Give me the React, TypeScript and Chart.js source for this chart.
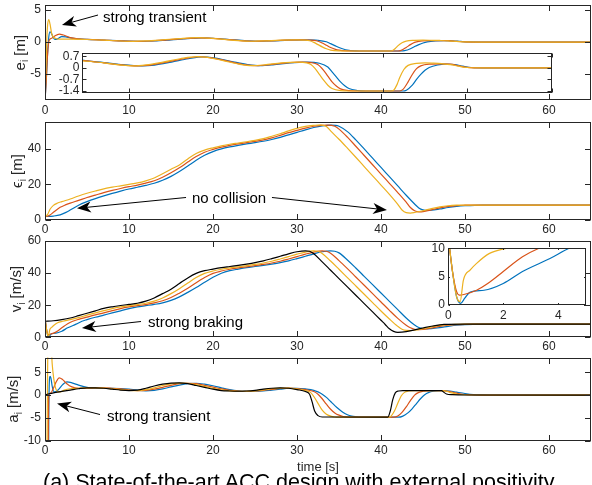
import { useEffect, useRef } from 'react';
import { Chart, registerables } from 'chart.js';

Chart.register(...registerables);

type Pt = [number, number];

const W = 592;
const H = 485;
const FONT = '"Liberation Sans", Arial, Helvetica, sans-serif';
const AXIS = '#262626';
const BLUE = '#0072BD';
const RED = '#D95319';
const YEL = '#EDB120';
const BLK = '#000000';

// ---------- tick values ----------
const TIME_TICKS = [0, 10, 20, 30, 40, 50, 60];
const E_TICKS = [-5, 0, 5];
const E_INSET_TICKS = [-1.4, -0.7, 0, 0.7];
const EPS_TICKS = [0, 20, 40];
const V_TICKS = [0, 20, 40, 60];
const V_INSET_X_TICKS = [0, 2, 4];
const V_INSET_Y_TICKS = [0, 5, 10];
const A_TICKS = [-10, -5, 0, 5];

// ---------- spacing error e_i [m] ----------
const eBlue: Pt[] = [[0,-9.1],[0.15,-6],[0.3,-2],[0.45,0.8],[0.6,1.6],[0.75,1.4],[0.95,0.8],[1.2,0.4],[1.5,0.5],[2,0.85],[2.5,0.8],[3,0.65],[4,0.5],[5,0.42],[7,0.32],[9,0.2],[11.5,0.12],[13,0.17],[15,0.35],[17,0.55],[18.7,0.66],[20,0.6],[22,0.4],[24,0.2],[25.5,0.13],[27,0.18],[29,0.3],[31,0.35],[32.5,0.28],[33.5,0.05],[34,-0.25],[34.5,-0.55],[35,-0.85],[35.5,-1.08],[36,-1.25],[37,-1.37],[38,-1.4],[42.4,-1.4],[42.8,-1.35],[43.5,-1.05],[44,-0.7],[44.5,-0.4],[45,-0.15],[45.5,0.02],[46.5,0.17],[47.5,0.22],[48.5,0.2],[49.5,0.1],[50.5,0.02],[52,0],[65,0]];
const eRed: Pt[] = [[0,-9.1],[0.15,-6],[0.3,-2],[0.5,0.3],[0.8,0.6],[1.2,1.0],[1.7,1.25],[2.2,1.1],[3,0.7],[4,0.5],[5,0.42],[7,0.3],[9,0.18],[11,0.12],[12.5,0.17],[14.5,0.35],[16.5,0.55],[18.3,0.67],[19.5,0.62],[21.5,0.42],[23.5,0.2],[25,0.13],[26.5,0.18],[28.5,0.3],[30.5,0.35],[31.5,0.32],[32.3,0.2],[33,-0.15],[33.5,-0.5],[34,-0.85],[34.5,-1.1],[35,-1.27],[36,-1.38],[37,-1.4],[42,-1.4],[42.4,-1.3],[43,-0.85],[43.5,-0.4],[44,-0.05],[44.5,0.12],[45.5,0.22],[47,0.24],[48,0.22],[49,0.12],[50,0.03],[52,0],[65,0]];
const eYellow: Pt[] = [[0,-9.1],[0.1,-5],[0.2,0],[0.3,2.5],[0.45,3.5],[0.6,2.8],[0.8,1.3],[1,0.8],[1.3,0.55],[1.6,0.45],[2,0.45],[3,0.45],[5,0.4],[7,0.3],[9,0.17],[10.5,0.12],[12,0.18],[14,0.35],[16,0.55],[18,0.68],[19,0.65],[21,0.45],[23,0.22],[24.5,0.13],[26,0.18],[28,0.3],[30,0.35],[31,0.3],[31.5,0.2],[32,-0.05],[32.5,-0.4],[33,-0.75],[33.5,-1.05],[34,-1.25],[35,-1.38],[36,-1.4],[41,-1.4],[41.3,-1.35],[41.7,-1.0],[42,-0.6],[42.5,-0.1],[43,0.15],[44,0.27],[45,0.3],[46,0.28],[47,0.25],[48,0.2],[49,0.1],[50,0.02],[52,0],[65,0]];

// ---------- inter-vehicle spacing eps_i [m] ----------
const epsBlue: Pt[] = [[0,2],[0.5,2],[1,2.2],[1.8,2.9],[2.5,4.3],[3,5.6],[4,8.3],[5,10.3],[6,12],[7,13.5],[8,14.9],[9,16.2],[10,17.4],[11,18.4],[12,19.4],[13,20.6],[14,22.3],[15,24.5],[16,27.2],[17,30.3],[18,33.5],[19,36.3],[20,38.4],[21,39.9],[22,41],[23,41.9],[24,42.7],[25,43.4],[26,44.2],[27,45.2],[28,46.4],[29,47.8],[30,49.2],[31,50.6],[32,51.9],[33,52.8],[34,53.2],[34.6,53.1],[35,52.6],[36,49.6],[37,45],[38,39.9],[39,34.7],[40,29.5],[41,24.3],[42,19.1],[43,13.9],[44,9],[44.5,6.8],[45,5.7],[45.5,5.4],[46,5.5],[47,6.2],[48,7],[49,7.6],[50,8],[52,8.4],[65,8.4]];
const epsRed: Pt[] = [[0,2],[0.3,2.1],[0.6,2.8],[1,4.3],[1.8,7.1],[2.5,8.6],[3,9.5],[4,11],[5,12.6],[6,14],[7,15.4],[8,16.6],[9,17.7],[10,18.7],[11,19.6],[12,20.7],[13,22],[14,24],[15,26.5],[16,29.3],[17,32.5],[18,35.6],[19,38],[20,39.6],[21,40.9],[22,41.9],[23,42.7],[24,43.4],[25,44.1],[26,45],[27,46.1],[28,47.5],[29,49],[30,50.3],[31,51.6],[32,52.6],[33,53.1],[33.7,53.3],[34.5,52.6],[35,51],[36,46.5],[37,41.4],[38,36.2],[39,31],[40,25.8],[41,20.6],[42,15.4],[43,10],[43.5,7],[44,5.2],[44.5,4.6],[45,4.7],[46,5.7],[47,6.8],[48,7.6],[49,8.1],[50,8.3],[51,8.4],[65,8.4]];
const epsYellow: Pt[] = [[0,2],[0.3,3],[0.6,6],[1,8.2],[1.5,9.5],[2,10.3],[3,11.8],[4,13.5],[5,15],[6,16.3],[7,17.5],[8,18.4],[9,19.2],[10,20],[11,20.8],[12,22],[13,23.6],[14,26],[15,28.5],[16,30.9],[17,34.3],[18,37.3],[19,39.2],[20,40.5],[21,41.6],[22,42.5],[23,43.2],[24,43.9],[25,44.7],[26,45.7],[27,47],[28,48.4],[29,50],[30,51.4],[31,52.5],[32,53.1],[32.8,53.4],[33.5,52.5],[34,50],[35,45.3],[36,40.3],[37,35.2],[38,30],[39,24.8],[40,19.6],[41,14.4],[42,8.8],[42.5,5.6],[43,4.1],[43.5,3.9],[44,4.2],[45,5.2],[46,6.4],[47,7.4],[48,8],[49,8.3],[50,8.4],[65,8.4]];

// ---------- velocity v_i [m/s] ----------
const vBlack: Pt[] = [[0,10],[1,10.3],[2,11],[3,12],[4,13.5],[5,15],[6,16.5],[7,18],[8,19],[9,19.8],[10,20.5],[11,21.2],[12,22.5],[13,24.5],[14,27.2],[15,30],[16,33.5],[17,37],[18,39.8],[19,41.5],[20,42.5],[21,43.4],[22,44.1],[23,44.8],[24,45.6],[25,46.5],[26,47.6],[27,49],[28,50.5],[29,52],[30,53.3],[31,53.9],[31.5,53.6],[32,52],[33,47],[34,41.8],[35,36.6],[36,31.4],[37,26.2],[38,21],[39,15.8],[40,10.6],[40.5,8],[41,5.3],[41.5,3.7],[42,3.1],[43,3.5],[44,4.6],[45,5.8],[46,6.9],[47,7.7],[47.5,8],[48,8.1],[50,8.2],[65,8.2]];
const vYellow: Pt[] = [[0,12],[0.15,6],[0.3,1.5],[0.43,0.6],[0.55,4.4],[0.8,6.2],[1.03,7.35],[1.5,9.1],[2.1,10],[3,11],[4,12.3],[5,13.8],[6,15.2],[7,16.6],[8,17.9],[9,18.9],[10,19.7],[11,20.4],[12,21.2],[13,22.5],[14,24.5],[15,27.2],[16,30.3],[17,33.8],[18,37.2],[19,39.8],[20,41.3],[21,42.4],[22,43.2],[23,43.9],[24,44.6],[25,45.4],[26,46.3],[27,47.4],[28,48.8],[29,50.3],[30,51.8],[31,53.1],[32,53.8],[32.5,53.6],[33,52.2],[34,47.5],[35,42.4],[36,37.2],[37,32],[38,26.8],[39,21.6],[40,16.4],[41,11.4],[42,6.8],[42.5,5],[43,4.3],[43.5,4.2],[44,4.4],[45,5.4],[46,6.5],[47,7.4],[48,7.9],[49,8.1],[50,8.2],[65,8.2]];
const vRed: Pt[] = [[0,12],[0.15,6],[0.3,2.4],[0.4,1.75],[0.6,1.9],[1.03,2.6],[1.5,4],[2,5.9],[2.7,8.5],[3.3,10],[4,11.2],[5,12.6],[6,14],[7,15.2],[8,16.6],[9,17.9],[10,18.9],[11,19.7],[12,20.4],[13,21.4],[14,22.8],[15,24.8],[16,27.5],[17,30.5],[18,34],[19,37.2],[20,39.8],[21,41.3],[22,42.4],[23,43.2],[24,43.9],[25,44.6],[26,45.4],[27,46.3],[28,47.4],[29,48.8],[30,50.3],[31,51.8],[32,53.1],[33,53.8],[33.5,53.6],[34,52.4],[35,47.8],[36,42.8],[37,37.6],[38,32.4],[39,27.2],[40,22],[41,16.8],[42,11.8],[43,7.5],[43.5,5.9],[44,5],[44.5,4.8],[45,4.9],[46,5.8],[47,6.8],[48,7.5],[49,7.9],[50,8.1],[51,8.2],[65,8.2]];
const vBlue: Pt[] = [[0,12],[0.15,6],[0.3,1.5],[0.45,0.3],[0.6,1.2],[0.8,2.3],[1.3,2.6],[2,3.8],[2.7,5.9],[3.7,8.2],[4.4,10],[5,11],[6,12.5],[7,13.8],[8,15.2],[9,16.5],[10,17.9],[11,18.9],[12,19.7],[13,20.5],[14,21.5],[15,23],[16,25.2],[17,28],[18,31],[19,34.3],[20,37.4],[21,39.9],[22,41.5],[23,42.5],[24,43.4],[25,44.1],[26,44.8],[27,45.6],[28,46.5],[29,47.6],[30,49],[31,50.5],[32,52],[33,53.3],[34,53.9],[34.5,53.6],[35,52.6],[36,48.2],[37,43.2],[38,38],[39,32.8],[40,27.6],[41,22.4],[42,17.2],[43,12],[44,7.6],[44.5,6.1],[45,5.5],[45.5,5.3],[46,5.4],[47,6],[48,6.8],[49,7.5],[50,7.9],[52,8.2],[65,8.2]];

// ---------- acceleration a_i [m/s^2] ----------
const aBlack: Pt[] = [[0,0.05],[0.5,0.3],[1,0.5],[2,0.8],[3,1.1],[4,1.4],[5,1.6],[6,1.6],[7,1.5],[8,1.3],[9,1.1],[10,1.0],[11,1.1],[12,1.5],[13,2.0],[14,2.4],[15,2.65],[16,2.7],[17,2.5],[18,2.1],[19,1.7],[20,1.3],[21,1.0],[22,0.9],[23,0.85],[24,0.9],[25,1.05],[26,1.3],[27,1.5],[28,1.6],[29,1.5],[30,1.2],[31,0.8],[31.5,0.2],[31.8,-1.5],[32.1,-3.5],[32.5,-4.5],[33,-4.8],[40.8,-4.85],[41.1,-3.5],[41.4,-1],[41.7,0.5],[42.1,0.9],[42.6,1],[47.2,1],[47.5,0.6],[47.8,0.25],[48.5,0.1],[50,0.02],[65,0]];
const aYellow: Pt[] = [[0,-25],[0.2,-25],[0.25,-10],[0.3,3],[0.36,12],[0.7,12],[0.85,7],[1.05,3.5],[1.25,1.6],[1.5,0.8],[1.8,0.7],[2.3,1.1],[3,1.4],[4,1.5],[5,1.6],[6,1.6],[7,1.55],[8,1.4],[9,1.2],[10,1.05],[11,1.0],[12,1.2],[13,1.6],[14,2.1],[15,2.45],[16,2.65],[17,2.6],[18,2.3],[19,1.9],[20,1.5],[21,1.15],[22,0.95],[23,0.85],[24,0.85],[25,0.95],[26,1.15],[27,1.4],[28,1.55],[29,1.55],[30,1.35],[31,1.0],[31.6,0.6],[32,-0.3],[32.5,-1.8],[33,-3.3],[33.5,-4.2],[34,-4.6],[34.5,-4.8],[35,-4.85],[40.9,-4.85],[41.2,-4.6],[41.6,-3.5],[42,-1.8],[42.4,-0.2],[42.8,0.6],[43.3,0.9],[44,1.0],[47.3,1.0],[47.8,0.85],[48.3,0.55],[49,0.25],[50,0.08],[51,0.02],[65,0]];
const aRed: Pt[] = [[0,-25],[0.35,-25],[0.4,-8],[0.45,0],[0.7,0.5],[1.0,1.5],[1.3,2.8],[1.7,3.8],[2.1,3.4],[2.6,2.5],[3.2,1.8],[4,1.5],[5,1.5],[6,1.6],[7,1.6],[8,1.5],[9,1.35],[10,1.15],[11,1.0],[12,1.05],[13,1.3],[14,1.7],[15,2.15],[16,2.5],[17,2.6],[18,2.5],[19,2.15],[20,1.75],[21,1.35],[22,1.05],[23,0.9],[24,0.85],[25,0.9],[26,1.05],[27,1.25],[28,1.45],[29,1.55],[30,1.45],[31,1.2],[32,0.8],[32.5,0.2],[33,-0.8],[33.5,-2.0],[34,-3.1],[34.5,-3.9],[35,-4.4],[35.5,-4.7],[36,-4.8],[36.5,-4.85],[41.5,-4.85],[42,-4.6],[42.5,-3.8],[43,-2.6],[43.5,-1.2],[44,0],[44.5,0.6],[45,0.85],[45.5,0.95],[46,1.0],[47.3,1.0],[48,0.85],[48.7,0.55],[49.5,0.25],[50.5,0.08],[52,0.01],[65,0]];
const aBlue: Pt[] = [[0,-25],[0.4,-25],[0.45,-5],[0.5,2],[0.6,4.1],[0.7,3.8],[0.85,2],[1.0,0.9],[1.2,0.7],[1.6,1.2],[2.1,2.3],[2.6,2.9],[3.2,2.7],[4,2.2],[5,1.7],[6,1.5],[7,1.5],[8,1.5],[9,1.45],[10,1.3],[11,1.1],[12,0.95],[13,1.05],[14,1.35],[15,1.8],[16,2.2],[17,2.5],[18,2.6],[19,2.4],[20,2.05],[21,1.6],[22,1.2],[23,0.95],[24,0.85],[25,0.8],[26,0.9],[27,1.1],[28,1.3],[29,1.5],[30,1.5],[31,1.35],[32,1.05],[32.5,0.7],[33,0.2],[33.5,-0.5],[34,-1.4],[34.5,-2.3],[35,-3.1],[35.5,-3.8],[36,-4.3],[36.5,-4.6],[37,-4.75],[37.5,-4.85],[42.1,-4.85],[42.6,-4.6],[43.2,-3.9],[43.7,-3.0],[44.2,-1.9],[44.7,-0.8],[45.2,0.1],[45.7,0.6],[46.2,0.85],[46.8,0.97],[47.5,1.0],[48.2,0.9],[49,0.65],[50,0.35],[51,0.12],[52,0.03],[53,0],[65,0]];

// ---------- annotations (data coordinates) ----------
interface Arrow { from: Pt; to: Pt }
interface Note { text: string; at: Pt; arrows: Arrow[] }

const NOTES_E: Note[] = [{ text: 'strong transient', at: [6.9, 3.18], arrows: [{ from: [6.31, 4.23], to: [2.02, 2.67] }] }];
const NOTES_EPS: Note[] = [{ text: 'no collision', at: [17.5, 9.37], arrows: [{ from: [16.79, 12.63], to: [3.81, 6.57] }, { from: [27.02, 12.63], to: [40.71, 5.61] }] }];
const NOTES_V: Note[] = [{ text: 'strong braking', at: [12.26, 6.6], arrows: [{ from: [11.43, 9.84], to: [4.4, 5.79] }] }];
const NOTES_A: Note[] = [{ text: 'strong transient', at: [7.38, -5.62], arrows: [{ from: [6.55, -4.26], to: [1.43, -1.84] }] }];

interface Series { data: Pt[]; color: string }
interface Panel {
  area: { left: number; top: number; right: number; bottom: number };
  xr: [number, number];
  yr: [number, number];
  xTicks: number[];
  yTicks: number[];
  xLabels: boolean;
  tickLen: number;
  yLabelPad: number;
  xLabelOff: number;
  series: Series[];
  fill?: boolean;
  yTitle?: { sym: string; unit: string; x: number };
  xTitle?: { text: string; y: number };
  notes?: Note[];
}

const PANELS: Panel[] = [
  {
    area: { left: 45, top: 5.3, right: 591, bottom: 100 }, xr: [0, 65], yr: [-9.06, 5.75],
    xTicks: TIME_TICKS, yTicks: E_TICKS, xLabels: true, tickLen: 5.5, yLabelPad: 4, xLabelOff: 10.5,
    series: [{ data: eYellow, color: YEL }, { data: eRed, color: RED }, { data: eBlue, color: BLUE }],
    yTitle: { sym: 'e', unit: ' [m]', x: 19.5 }, notes: NOTES_E,
  },
  {
    area: { left: 45, top: 122, right: 591, bottom: 220 }, xr: [0, 65], yr: [0, 55],
    xTicks: TIME_TICKS, yTicks: EPS_TICKS, xLabels: true, tickLen: 5.5, yLabelPad: 4, xLabelOff: 9.5,
    series: [{ data: epsYellow, color: YEL }, { data: epsRed, color: RED }, { data: epsBlue, color: BLUE }],
    yTitle: { sym: '\u03F5', unit: ' [m]', x: 17 }, notes: NOTES_EPS,
  },
  {
    area: { left: 45, top: 241, right: 591, bottom: 337.3 }, xr: [0, 65], yr: [0, 60],
    xTicks: TIME_TICKS, yTicks: V_TICKS, xLabels: true, tickLen: 5.5, yLabelPad: 4, xLabelOff: 9.5,
    series: [{ data: vBlack, color: BLK }, { data: vYellow, color: YEL }, { data: vRed, color: RED }, { data: vBlue, color: BLUE }],
    yTitle: { sym: 'v', unit: ' [m/s]', x: 16 }, notes: NOTES_V,
  },
  {
    area: { left: 45, top: 357.5, right: 591, bottom: 440.7 }, xr: [0, 65], yr: [-10, 8.25],
    xTicks: TIME_TICKS, yTicks: A_TICKS, xLabels: true, tickLen: 5.5, yLabelPad: 4, xLabelOff: 10,
    series: [{ data: aBlack, color: BLK }, { data: aYellow, color: YEL }, { data: aRed, color: RED }, { data: aBlue, color: BLUE }],
    yTitle: { sym: 'a', unit: ' [m/s]', x: 13 }, notes: NOTES_A, xTitle: { text: 'time [s]', y: 467.5 },
  },
  {
    area: { left: 82, top: 53.3, right: 551.7, bottom: 93.3 }, xr: [4.4, 60], yr: [-1.54, 0.88],
    xTicks: TIME_TICKS, yTicks: E_INSET_TICKS, xLabels: false, tickLen: 4, yLabelPad: 2.5, xLabelOff: 10,
    series: [{ data: eYellow, color: YEL }, { data: eRed, color: RED }, { data: eBlue, color: BLUE }],
    fill: true,
  },
  {
    area: { left: 448.3, top: 248.3, right: 585.7, bottom: 305 }, xr: [0, 5], yr: [0, 10],
    xTicks: V_INSET_X_TICKS, yTicks: V_INSET_Y_TICKS, xLabels: true, tickLen: 1.5, yLabelPad: 3.5, xLabelOff: 11,
    series: [{ data: vYellow, color: YEL }, { data: vRed, color: RED }, { data: vBlue, color: BLUE }],
    fill: true,
  },
];

function drawArrow(ctx: CanvasRenderingContext2D, x1: number, y1: number, x2: number, y2: number) {
  const ang = Math.atan2(y2 - y1, x2 - x1);
  const c = Math.cos(ang), s = Math.sin(ang);
  const L = 14, HW = 5.5, N = 4;
  const bx = x2 - L * c, by = y2 - L * s;
  const nx = x2 - (L - N) * c, ny = y2 - (L - N) * s;
  ctx.save();
  ctx.strokeStyle = '#000';
  ctx.fillStyle = '#000';
  ctx.lineWidth = 1;
  ctx.beginPath();
  ctx.moveTo(x1, y1);
  ctx.lineTo(nx, ny);
  ctx.stroke();
  ctx.beginPath();
  ctx.moveTo(x2, y2);
  ctx.lineTo(bx - HW * s, by + HW * c);
  ctx.lineTo(nx, ny);
  ctx.lineTo(bx + HW * s, by - HW * c);
  ctx.closePath();
  ctx.fill();
  ctx.restore();
}

function framePlugin(p: Panel) {
  return {
    id: 'frame',
    beforeDatasetsDraw(chart: any) {
      if (!p.fill) return;
      const a = chart.chartArea;
      const ctx: CanvasRenderingContext2D = chart.ctx;
      ctx.save();
      ctx.fillStyle = '#ffffff';
      ctx.fillRect(a.left, a.top, a.right - a.left, a.bottom - a.top);
      ctx.restore();
    },
    afterDatasetsDraw(chart: any) {
      const ctx: CanvasRenderingContext2D = chart.ctx;
      const a = chart.chartArea;
      const xs = chart.scales.x;
      const ys = chart.scales.y;
      ctx.save();
      // box
      ctx.strokeStyle = AXIS;
      ctx.lineWidth = 1;
      const L = Math.round(a.left) + 0.5, R = Math.round(a.right) - 0.5;
      const T = Math.round(a.top) + 0.5, B = Math.round(a.bottom) - 0.5;
      ctx.strokeRect(L, T, R - L, B - T);
      // inward ticks
      ctx.beginPath();
      for (const v of p.xTicks) {
        if (v < p.xr[0] || v > p.xr[1]) continue;
        const px = Math.round(xs.getPixelForValue(v)) + 0.5;
        ctx.moveTo(px, B); ctx.lineTo(px, B - p.tickLen);
        ctx.moveTo(px, T); ctx.lineTo(px, T + p.tickLen);
      }
      for (const v of p.yTicks) {
        const py = Math.round(ys.getPixelForValue(v)) + 0.5;
        ctx.moveTo(L, py); ctx.lineTo(L + p.tickLen, py);
        ctx.moveTo(R, py); ctx.lineTo(R - p.tickLen, py);
      }
      ctx.stroke();
      // tick labels
      ctx.fillStyle = AXIS;
      ctx.font = `12px ${FONT}`;
      ctx.textBaseline = 'middle';
      if (p.xLabels) {
        ctx.textAlign = 'center';
        for (const v of p.xTicks) {
          ctx.fillText(String(v), xs.getPixelForValue(v), a.bottom + p.xLabelOff);
        }
      }
      ctx.textAlign = 'right';
      for (const v of p.yTicks) {
        ctx.fillText(String(v), a.left - p.yLabelPad, ys.getPixelForValue(v));
      }
      // y title with subscript
      if (p.yTitle) {
        const cy = (a.top + a.bottom) / 2;
        ctx.save();
        ctx.translate(p.yTitle.x, cy);
        ctx.rotate(-Math.PI / 2);
        const big = `15px ${FONT}`;
        const small = `10px ${FONT}`;
        ctx.font = big;
        const w1 = ctx.measureText(p.yTitle.sym).width;
        const w3 = ctx.measureText(p.yTitle.unit).width;
        ctx.font = small;
        const w2 = ctx.measureText('i').width;
        const total = w1 + w2 + w3;
        let x0 = -total / 2;
        ctx.textAlign = 'left';
        ctx.textBaseline = 'alphabetic';
        ctx.fillStyle = AXIS;
        ctx.font = big;
        ctx.fillText(p.yTitle.sym, x0, 5);
        x0 += w1;
        ctx.font = small;
        ctx.fillText('i', x0, 8.5);
        x0 += w2;
        ctx.font = big;
        ctx.fillText(p.yTitle.unit, x0, 5);
        ctx.restore();
      }
      if (p.xTitle) {
        ctx.font = `13px ${FONT}`;
        ctx.textAlign = 'center';
        ctx.textBaseline = 'middle';
        ctx.fillStyle = AXIS;
        ctx.fillText(p.xTitle.text, (a.left + a.right) / 2, p.xTitle.y);
      }
      // annotations
      if (p.notes) {
        for (const n of p.notes) {
          ctx.font = `15px ${FONT}`;
          ctx.textAlign = 'left';
          ctx.textBaseline = 'alphabetic';
          ctx.fillStyle = '#000';
          ctx.fillText(n.text, xs.getPixelForValue(n.at[0]), ys.getPixelForValue(n.at[1]));
          for (const ar of n.arrows) {
            drawArrow(ctx,
              xs.getPixelForValue(ar.from[0]), ys.getPixelForValue(ar.from[1]),
              xs.getPixelForValue(ar.to[0]), ys.getPixelForValue(ar.to[1]));
          }
        }
      }
      ctx.restore();
    },
  };
}

function makeChart(canvas: HTMLCanvasElement, p: Panel) {
  return new Chart(canvas, {
    type: 'line',
    data: {
      datasets: p.series.map((s) => ({
        data: s.data.map(([x, y]) => ({ x, y })),
        borderColor: s.color,
        borderWidth: 1.2,
        pointRadius: 0,
        fill: false,
        tension: 0.4,
        cubicInterpolationMode: 'monotone' as const,
      })),
    },
    options: {
      responsive: false,
      animation: false,
      events: [],
      layout: {
        padding: { left: p.area.left, top: p.area.top, right: W - p.area.right, bottom: H - p.area.bottom },
      },
      scales: {
        x: { type: 'linear', display: false, min: p.xr[0], max: p.xr[1] },
        y: { type: 'linear', display: false, min: p.yr[0], max: p.yr[1] },
      },
      plugins: { legend: { display: false }, tooltip: { enabled: false } },
    },
    plugins: [framePlugin(p)],
  } as any);
}

export default function App() {
  const refs = useRef<(HTMLCanvasElement | null)[]>([]);
  useEffect(() => {
    const charts = PANELS.map((p, i) => makeChart(refs.current[i] as HTMLCanvasElement, p));
    return () => charts.forEach((c) => c.destroy());
  }, []);
  return (
    <div style={{ position: 'fixed', left: 0, top: 0, width: W, height: H, overflow: 'hidden', background: '#ffffff' }}>
      {PANELS.map((_, i) => (
        <canvas
          key={i}
          ref={(el) => { refs.current[i] = el; }}
          width={W}
          height={H}
          style={{ position: 'absolute', left: 0, top: 0, width: W, height: H }}
        />
      ))}
      <div
        style={{
          position: 'absolute', left: 43, top: 472, fontFamily: FONT, fontSize: 21.5, lineHeight: '21px',
          whiteSpace: 'nowrap', color: '#000',
        }}
      >
        (a) State-of-the-art ACC design with external positivity
      </div>
    </div>
  );
}
